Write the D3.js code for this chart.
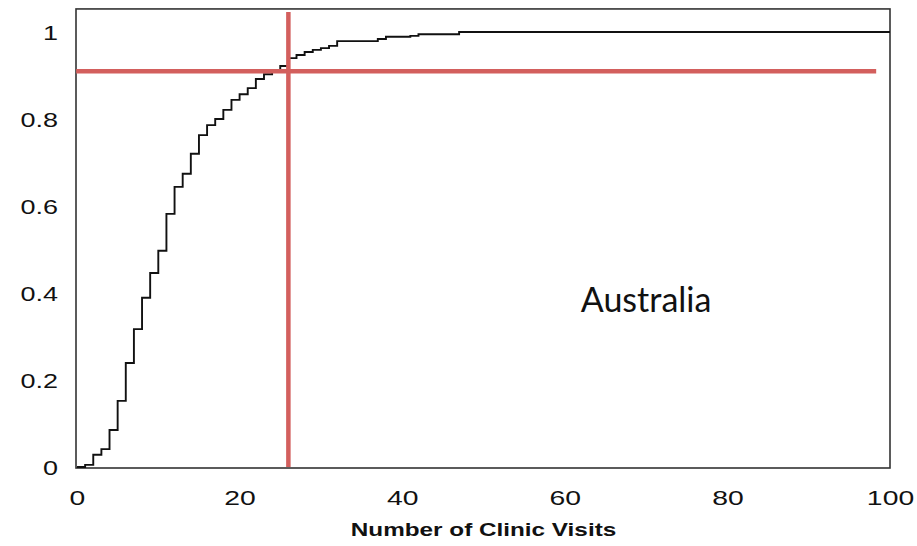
<!DOCTYPE html>
<html>
<head>
<meta charset="utf-8">
<script src="https://cdn.jsdelivr.net/npm/d3@7"></script>
<style>
  body { margin: 0; background: #fff; }
  svg { display: block; }
</style>
</head>
<body>
<div id="chart"></div>
<script>
// empirical CDF of clinic visits (step after each visit count)
var visits   = [0, 1, 2, 3, 4, 5, 6, 7, 8, 9, 10, 11, 12, 13, 14, 15, 16, 17, 18, 19, 20,
                21, 22, 23, 24, 25, 26, 27, 28, 29, 30, 31, 32, 37, 38, 41, 42, 47, 100];
var cumShare = [0, 0.005, 0.028, 0.041, 0.085, 0.152, 0.239, 0.317, 0.389, 0.446, 0.497,
                0.582, 0.644, 0.674, 0.720, 0.763, 0.786, 0.800, 0.821, 0.844, 0.857,
                0.871, 0.892, 0.903, 0.908, 0.922, 0.940, 0.947, 0.954, 0.959, 0.963,
                0.968, 0.979, 0.984, 0.989, 0.991, 0.995, 1.0, 1.0];

var xTicks = [0, 20, 40, 60, 80, 100];
var yTicks = [0, 0.2, 0.4, 0.6, 0.8, 1];

var cutoffVisits = 26;    // red vertical
var cutoffShare = 0.91;   // red horizontal
var countryLabel = "Australia";
var xTitle = "Number of Clinic Visits";

var W = 917, H = 546;
var red = "#d35f5d";
var stretch = "scale(1.35,1)";   // the scanned labels are wide

var x = d3.scaleLinear().domain([0, 100]).range([77, 890]);
var y = d3.scaleLinear().domain([0, 1]).range([467, 32]);

var svg = d3.select("#chart").append("svg")
    .attr("width", W)
    .attr("height", H);

svg.append("rect").attr("width", W).attr("height", H).attr("fill", "#fff");

// plot frame
svg.append("rect")
    .attr("x", x(0) - 1)
    .attr("y", y(1.053))
    .attr("width", x(100) - x(0) + 1)
    .attr("height", y(0) - y(1.053) + 1)
    .attr("fill", "none")
    .attr("stroke", "#333")
    .attr("stroke-width", 1.6);

// the step curve
var pts = visits.map(function(v, i) { return [v, cumShare[i]]; });
var line = d3.line()
    .curve(d3.curveStepAfter)
    .x(function(d) { return x(d[0]); })
    .y(function(d) { return y(d[1]); });

svg.append("path")
    .datum(pts)
    .attr("d", line)
    .attr("fill", "none")
    .attr("stroke", "#111")
    .attr("stroke-width", 1.9);

// axes, labels only
var xAxis = svg.append("g")
    .attr("transform", "translate(0,487)")
    .call(d3.axisBottom(x).tickValues(xTicks).tickSize(0).tickFormat(d3.format("d")));
xAxis.select(".domain").remove();
xAxis.selectAll("text")
    .attr("transform", stretch)
    .attr("font-family", "Liberation Sans, Arial, sans-serif")
    .attr("font-size", 21)
    .attr("fill", "#111");

var yAxis = svg.append("g")
    .attr("transform", "translate(" + 58 + ",1)")
    .call(d3.axisLeft(y).tickValues(yTicks).tickSize(0).tickFormat(function(d) { return d3.format("~g")(d); }));
yAxis.select(".domain").remove();
yAxis.selectAll("text")
    .attr("x", 0)
    .attr("transform", stretch)
    .attr("font-family", "Liberation Sans, Arial, sans-serif")
    .attr("font-size", 20)
    .attr("fill", "#111");

svg.append("text")
    .attr("transform", "translate(" + ((x(0) + x(100)) / 2) + ",536) " + stretch)
    .attr("text-anchor", "middle")
    .attr("font-family", "Liberation Sans, Arial, sans-serif")
    .attr("font-weight", "bold")
    .attr("font-size", 18)
    .attr("fill", "#111")
    .text(xTitle);

// red reference lines
svg.append("line")
    .attr("x1", x(-0.1)).attr("x2", x(98.3))
    .attr("y1", y(cutoffShare)).attr("y2", y(cutoffShare))
    .attr("stroke", red)
    .attr("stroke-width", 4.5);

svg.append("line")
    .attr("x1", x(cutoffVisits)).attr("x2", x(cutoffVisits))
    .attr("y1", y(0)).attr("y2", y(1.046))
    .attr("stroke", red)
    .attr("stroke-width", 4.5);

svg.append("text")
    .attr("x", x(70))
    .attr("y", y(0.384))
    .attr("dy", "0.35em")
    .attr("text-anchor", "middle")
    .attr("font-family", "Lato, Open Sans, sans-serif")
    .attr("font-size", 34)
    .attr("fill", "#111")
    .text(countryLabel);
</script>
</body>
</html>
